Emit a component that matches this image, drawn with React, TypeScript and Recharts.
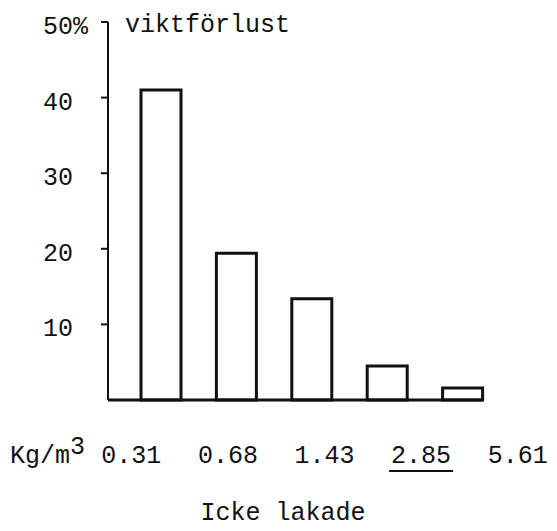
import React from 'react';
import { BarChart, Bar, XAxis, YAxis } from 'recharts';

// weight loss (%) per density, not leached
const densities = ['0.31', '0.68', '1.43', '2.85', '5.61'];
const weightLoss = [41, 19.4, 13.4, 4.5, 1.6];
const yTicks = [10, 20, 30, 40, 50];
const underlined = ['2.85'];
const unitLabel = 'Kg/m';
const unitSup = '3';
const yTitle = 'viktförlust';
const xTitle = 'Icke lakade';

const data = densities.map((d, i) => ({ dens: d, loss: weightLoss[i] }));

const INK = '#111';
const FONT = "'Liberation Mono', 'DejaVu Sans Mono', monospace";
const FS = 25;

const YTick = ({ x, y, payload }: any) => (
  <text x={x - 56} y={y + 12} fill={INK} fontSize={FS} fontFamily={FONT}>
    {payload.value === yTicks[yTicks.length - 1] ? `${payload.value}%` : payload.value}
  </text>
);

const DensTick = ({ x, y, payload }: any) => {
  const v = payload.value;
  return (
    <g>
      <text x={x} y={y + 43} textAnchor="middle" fill={INK} fontSize={FS} fontFamily={FONT}>
        {v}
      </text>
      {underlined.includes(v) && (
        <line x1={x - 32} x2={x + 32} y1={y + 51} y2={y + 51} stroke={INK} strokeWidth={2} />
      )}
    </g>
  );
};

const UnitLabel = ({ viewBox }: any) => (
  <text x={viewBox.x - 98} y={viewBox.y + 43} fill={INK} fontSize={FS} fontFamily={FONT}>
    {unitLabel}
    <tspan dy={-9}>{unitSup}</tspan>
  </text>
);

const BottomTitle = ({ viewBox }: any) => (
  <text
    x={viewBox.x + viewBox.width / 2 - 12}
    y={viewBox.y + 120}
    textAnchor="middle"
    fill={INK}
    fontSize={FS}
    fontFamily={FONT}
  >
    {xTitle}
  </text>
);

const TopTitle = ({ viewBox }: any) => (
  <text x={viewBox.x + viewBox.width + 17} y={viewBox.y + 10} fill={INK} fontSize={FS} fontFamily={FONT}>
    {yTitle}
  </text>
);

export default function App() {
  return (
    <div style={{ position: 'absolute', left: 0, top: 0, background: '#fff' }}>
      <BarChart
        width={557}
        height={531}
        data={data}
        margin={{ top: 22, right: 75, left: 0, bottom: 51 }}
      >
        <XAxis
          xAxisId="bars"
          dataKey="dens"
          height={20}
          tick={false}
          tickLine={false}
          axisLine={{ stroke: INK, strokeWidth: 3 }}
          padding={{ left: 15, right: -18 }}
          label={{ content: BottomTitle }}
        />
        <XAxis
          xAxisId="labels"
          dataKey="dens"
          height={60}
          axisLine={false}
          tickLine={false}
          tickSize={0}
          tickMargin={0}
          interval={0}
          tick={<DensTick />}
          padding={{ left: -25, right: -84 }}
          label={{ content: UnitLabel }}
        />
        <YAxis
          width={108}
          domain={[0, 50]}
          ticks={yTicks}
          interval={0}
          tickSize={7}
          tickMargin={2}
          axisLine={{ stroke: INK, strokeWidth: 2 }}
          tickLine={{ stroke: INK, strokeWidth: 2 }}
          tick={<YTick />}
          label={{ content: TopTitle }}
        />
        <Bar
          xAxisId="bars"
          dataKey="loss"
          barSize={40}
          fill="#fff"
          stroke={INK}
          strokeWidth={3}
          isAnimationActive={false}
        />
      </BarChart>
    </div>
  );
}
